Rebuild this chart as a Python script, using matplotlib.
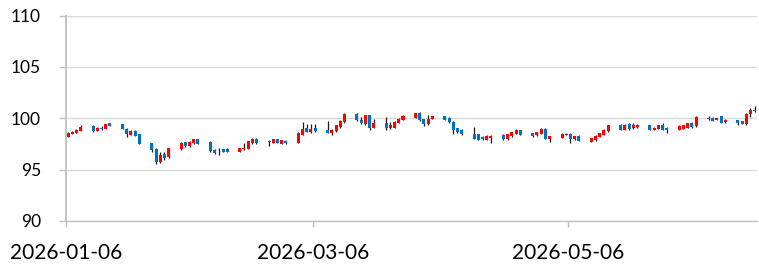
import numpy as np
import pandas as pd
import matplotlib
matplotlib.use("Agg")
import matplotlib.pyplot as plt
import matplotlib.dates as mdates

# trading days (business days, Jan 6 .. Jun 19 2026)
dates = pd.bdate_range("2026-01-06", "2026-06-19")

opens = [
    98.2, 98.5, 98.6, 98.8,
    99.2, 98.8, 99.05, 99.0, 99.5,
    99.4, 99.0, 98.4, 98.8, 98.45,
    97.55, 97.05, 95.7, 96.5, 96.2,
    97.0, 97.65, 97.3, 97.55, 97.95,
    97.7, 96.95, 96.8, 97.0, 97.05,
    96.75, 97.0, 97.05, 97.55, 97.95,
    97.8, 97.6, 97.95, 97.5, 97.8,
    97.6, 98.4, 99.05, 98.65, 99.05,
    98.9, 98.6, 98.75, 99.15, 99.6,
    100.45, 99.8, 99.4, 100.3, 99.1,
    99.5, 99.05, 99.1, 99.55, 99.85,
    100.05, 100.55, 99.9, 99.4, 99.95,
    100.2, 100.0, 99.65, 99.05, 98.9,
    98.5, 98.45, 98.2, 97.9, 98.1,
    98.35, 97.95, 98.25, 98.5, 98.85,
    98.55, 98.35, 98.5, 99.0, 97.95,
    98.1, 98.4, 98.5, 97.95, 98.3,
    97.7, 97.85, 98.2, 98.4, 98.75,
    99.35, 98.9, 99.4, 99.05, 99.15,
    99.3, 98.9, 99.0, 99.3, 99.05,
    98.9, 99.0, 99.1, 99.55, 99.2,
    100.05, 100.05, 99.85, 100.2, 99.6,
    99.8, 99.7, 99.4, 100.4, 100.85,
]
highs = [
    98.65, 98.75, 98.95, 99.3,
    99.3, 99.15, 99.2, 99.45, 99.55,
    99.45, 99.05, 98.85, 98.85, 98.5,
    97.6, 97.1, 96.7, 96.7, 97.15,
    97.65, 97.7, 97.75, 98.0, 98.0,
    97.75, 97.0, 97.1, 97.05, 97.1,
    97.15, 97.55, 97.8, 98.1, 98.1,
    97.85, 98.0, 98.0, 97.9, 97.85,
    98.65, 99.6, 99.4, 99.4, 99.4,
    99.7, 98.95, 99.35, 99.8, 100.5,
    100.5, 100.1, 100.35, 100.35, 99.9,
    100.15, 99.6, 99.7, 100.0, 100.3,
    100.55, 100.6, 99.95, 100.3, 100.25,
    100.25, 100.1, 99.7, 99.1, 98.95,
    99.15, 98.5, 98.25, 98.35, 98.35,
    98.5, 98.5, 98.7, 98.95, 98.9,
    98.6, 98.7, 99.05, 99.05, 98.3,
    98.55, 98.55, 98.55, 98.3, 98.35,
    98.1, 98.4, 98.6, 98.95, 99.35,
    99.4, 99.4, 99.55, 99.55, 99.4,
    99.35, 99.15, 99.35, 99.55, 99.15,
    99.3, 99.35, 99.55, 99.6, 100.2,
    100.25, 100.1, 100.05, 100.25, 99.9,
    99.85, 99.75, 100.5, 101.0, 101.2,
]
lows = [
    98.15, 98.45, 98.55, 98.75,
    98.7, 98.75, 98.85, 98.95, 99.2,
    98.95, 98.2, 98.35, 98.25, 97.45,
    96.7, 95.5, 95.6, 95.95, 96.15,
    96.95, 97.25, 97.25, 97.5, 97.45,
    96.75, 96.55, 96.4, 96.7, 96.7,
    96.7, 96.95, 97.0, 97.5, 97.45,
    97.3, 97.55, 97.55, 97.45, 97.5,
    97.55, 98.35, 98.65, 98.6, 98.7,
    98.55, 98.4, 98.7, 99.1, 99.55,
    99.7, 99.45, 99.35, 98.9, 99.05,
    98.85, 99.0, 99.05, 99.5, 99.8,
    100.0, 99.75, 99.2, 99.35, 99.9,
    99.8, 99.55, 98.5, 98.6, 98.4,
    97.95, 97.85, 97.9, 97.85, 97.6,
    97.9, 97.9, 98.2, 98.45, 98.35,
    98.2, 98.3, 98.45, 97.95, 97.65,
    98.05, 98.35, 97.6, 97.9, 97.75,
    97.65, 97.8, 98.15, 98.35, 98.7,
    98.85, 98.85, 98.9, 99.0, 99.1,
    98.85, 98.85, 98.95, 98.85, 98.6,
    98.85, 98.95, 99.05, 99.1, 99.15,
    99.8, 99.7, 99.8, 99.5, 99.55,
    99.35, 99.4, 99.35, 100.1, 100.6,
]
closes = [
    98.6, 98.7, 98.9, 99.15,
    98.75, 99.1, 98.95, 99.4, 99.25,
    99.0, 98.5, 98.8, 98.3, 97.5,
    96.9, 95.75, 96.4, 96.1, 97.1,
    97.6, 97.3, 97.7, 97.95, 97.5,
    96.8, 96.65, 96.85, 96.75, 96.75,
    97.1, 97.15, 97.75, 97.95, 97.6,
    97.7, 97.95, 97.6, 97.85, 97.55,
    98.6, 99.0, 98.7, 99.0, 98.8,
    98.6, 98.9, 99.3, 99.75, 100.45,
    99.8, 99.5, 100.3, 99.05, 99.5,
    99.1, 99.3, 99.65, 99.95, 100.2,
    100.5, 99.8, 99.4, 99.95, 100.2,
    99.85, 99.6, 98.9, 98.65, 98.45,
    98.0, 97.9, 97.95, 98.3, 98.3,
    97.95, 98.45, 98.65, 98.9, 98.4,
    98.25, 98.65, 98.95, 98.0, 98.25,
    98.5, 98.5, 97.95, 98.25, 97.8,
    98.05, 98.3, 98.55, 98.9, 99.3,
    98.9, 99.35, 98.95, 99.35, 99.35,
    98.9, 99.1, 99.3, 98.9, 98.9,
    99.25, 99.3, 99.5, 99.15, 100.15,
    99.9, 99.75, 100.0, 99.55, 99.85,
    99.55, 99.45, 100.45, 100.85, 100.7,
]

tick_labels = ["2026-01-06", "2026-03-06", "2026-05-06"]
y_ticks = [90, 95, 100, 105, 110]

UP = "#FF0000"
DOWN = "#0070C0"
GRID = "#D9D9D9"
AXIS = "#BFBFBF"

plt.rcParams["font.family"] = ["Lato", "DejaVu Sans"]

fig = plt.figure(figsize=(7.59, 2.68), dpi=100)
ax = fig.add_axes([0.087, 0.1754, 0.910, 0.7666])

o = np.array(opens)
h = np.array(highs)
l = np.array(lows)
c = np.array(closes)
x = mdates.date2num(dates.to_pydatetime()) + 0.5

colors = np.where(c >= o, UP, DOWN)
bottoms = np.minimum(o, c)
heights = np.maximum(np.abs(c - o), 0.06)

ax.vlines(x, l, h, color="#1a1a1a", linewidth=0.9, zorder=2)
ax.bar(x, heights, bottom=bottoms, width=0.72, color=colors,
       edgecolor="none", linewidth=0, zorder=3)

ax.set_ylim(90, 110)
ax.set_yticks(y_ticks)
ax.set_xlim(mdates.date2num(dates[0].to_pydatetime()),
            mdates.date2num(dates[-1].to_pydatetime()) + 1)
ax.set_xticks([mdates.date2num(pd.Timestamp(t).to_pydatetime()) for t in tick_labels])
ax.set_xticklabels(tick_labels)

ax.grid(axis="y", color=GRID, linewidth=1.0, zorder=0)
ax.set_axisbelow(True)
for side in ["top", "right"]:
    ax.spines[side].set_visible(False)
ax.spines["left"].set_color(AXIS)
ax.spines["left"].set_linewidth(1.3)
ax.spines["bottom"].set_color(AXIS)
ax.spines["bottom"].set_linewidth(1.0)

ax.tick_params(axis="y", length=5, width=1, color=AXIS, pad=13,
               labelsize=12.5, labelcolor="#000000")
ax.tick_params(axis="x", length=4, width=1, color=AXIS, pad=12,
               labelsize=15, labelcolor="#000000")

fig.savefig("out.png", dpi=100)
